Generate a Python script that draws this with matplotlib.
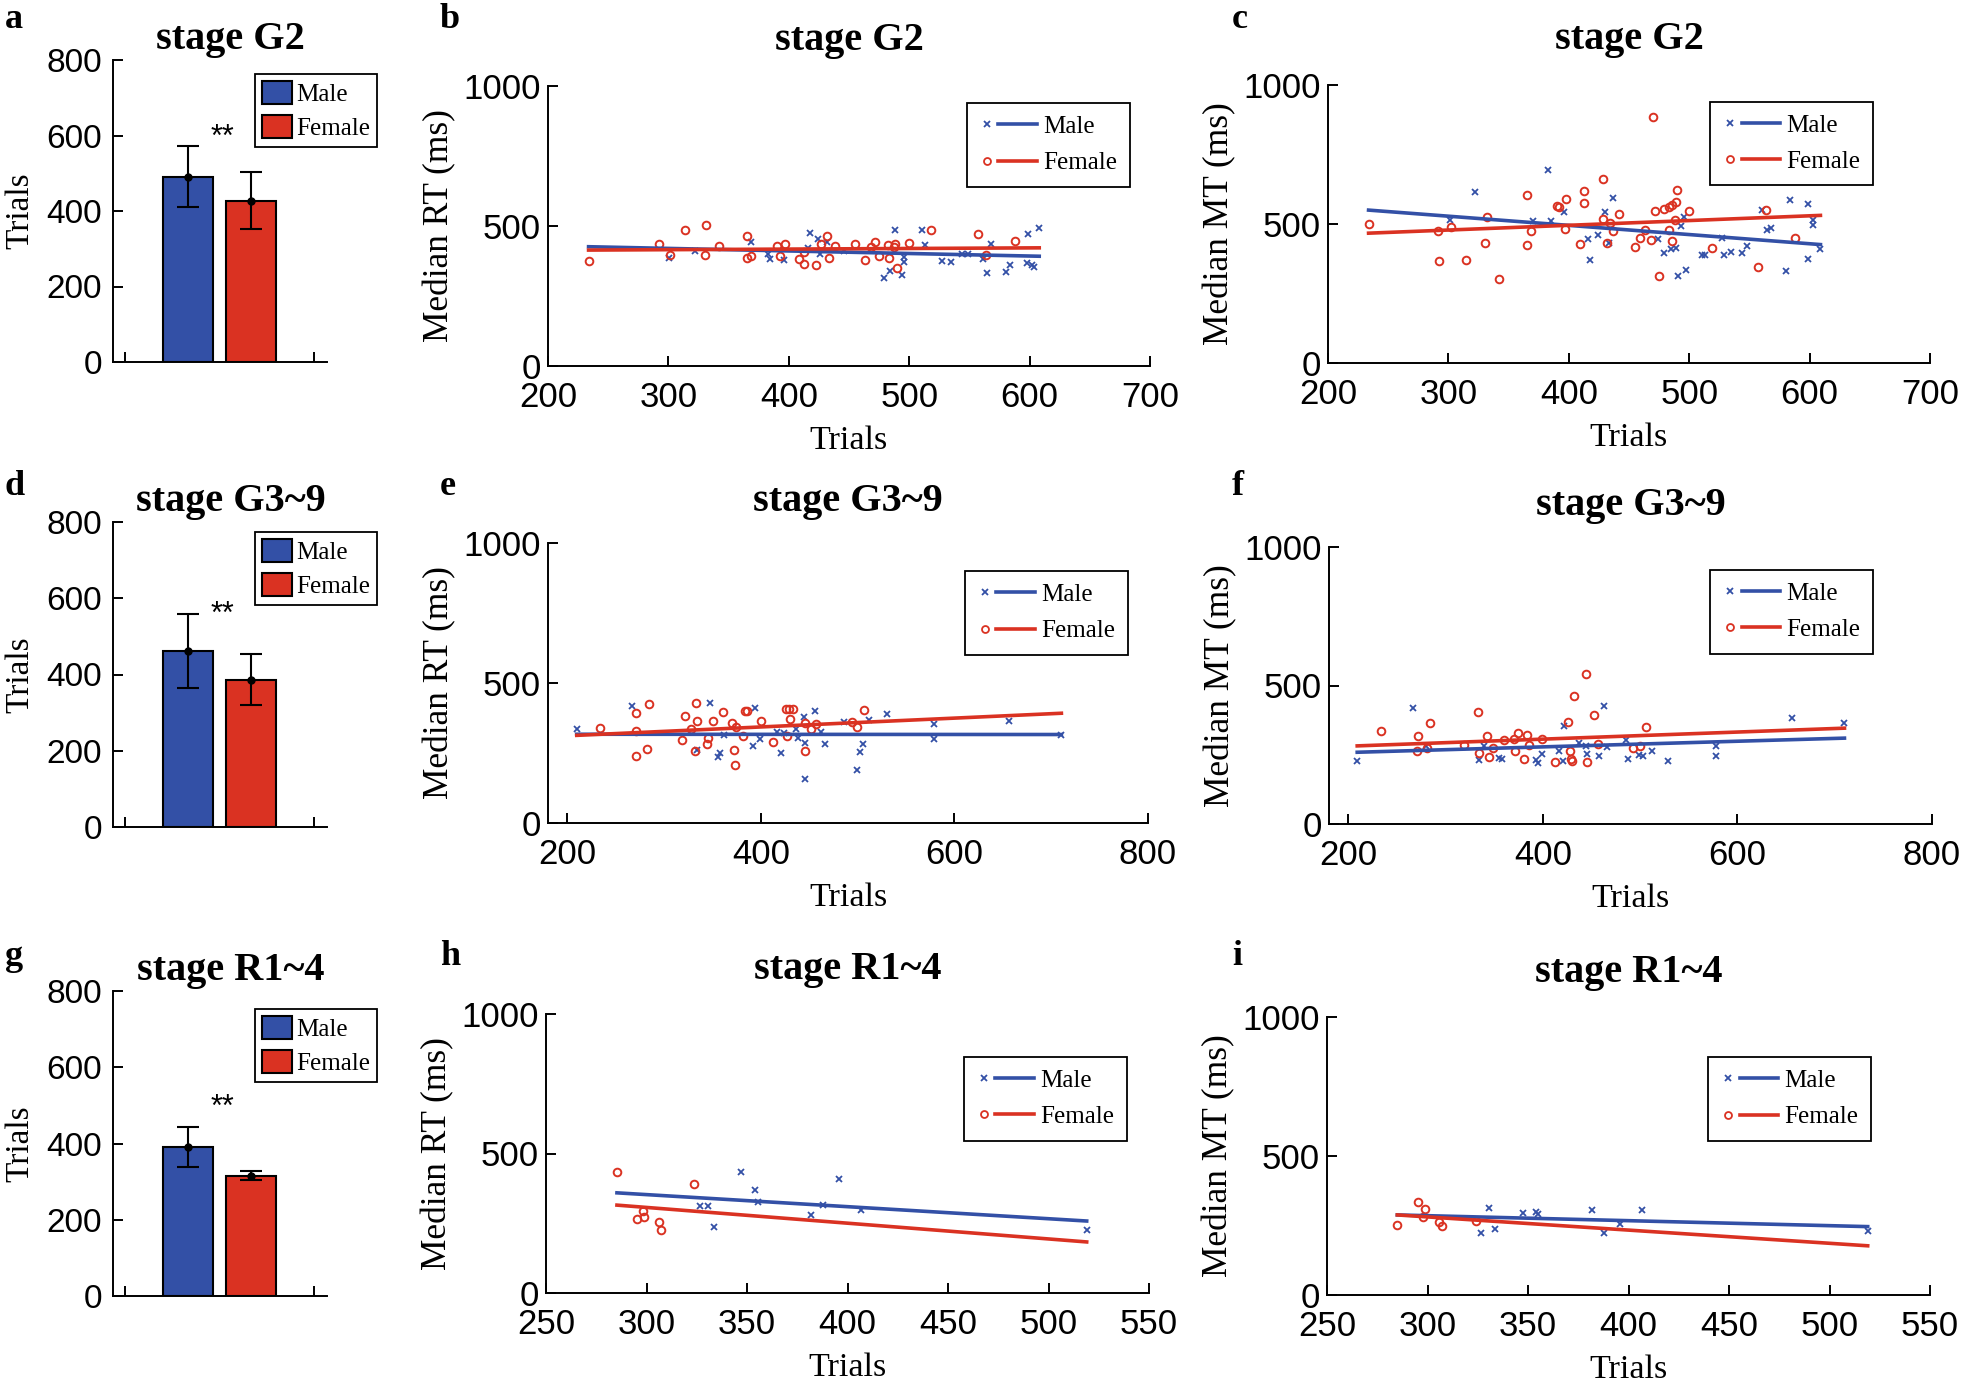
import matplotlib
matplotlib.use("Agg")
import matplotlib.pyplot as plt
from matplotlib.lines import Line2D
from matplotlib.legend_handler import HandlerBase
import numpy as np

plt.rcParams['font.family'] = 'Liberation Serif'
plt.rcParams['axes.linewidth'] = 1.4

BLUE = '#3350A6'
RED = '#DA3222'

# ---- bar panels (a, d, g) ----
stages = ["stage G2", "stage G3~9", "stage R1~4"]
bar_male_mean = [491, 461, 391]
bar_male_err = [81, 97, 53]
bar_female_mean = [427, 386, 316]
bar_female_err = [75, 67, 13]
star_y = [572, 535, 472]

# ---- scatter panels: (trials, median ms) ----
b_male_x = [300.7, 322, 369, 383, 384, 395.6, 418, 424, 432, 426, 416, 446, 488, 479, 484, 494, 496, 496,
            511, 513, 527, 535, 544, 549, 561, 565, 568, 580, 584, 598.6, 598, 602, 604, 608]
b_male_y = [386, 411, 442, 399, 383, 377, 474, 454, 444, 401, 420, 410, 487, 314, 341, 326, 373, 389,
            487, 432, 375, 373, 401, 401, 383, 331, 435, 337, 361, 471, 367, 361, 355, 493]
b_female_x = [233.7, 291.8, 314, 331, 301.7, 330, 342, 365, 365, 369, 390, 397, 393, 408.5, 412.6, 412.6,
              423, 427, 432, 438, 433, 455, 472, 468, 463, 475, 482, 488, 487, 483, 490, 500, 518, 557, 564, 588]
b_female_y = [375, 435, 485, 505, 397, 397, 428, 466, 387, 392, 429, 434, 392, 381, 363, 408,
              359, 434, 466, 429, 386, 434, 442, 426, 377, 392, 432, 435, 426, 386, 350, 438, 487, 472, 397, 446]
b_fit_male = [426, 392]
b_fit_female = [414, 422]

c_male_x = [301, 322, 370, 383, 385, 396, 416, 418, 424, 430, 433, 437, 474, 479, 485, 489, 493, 496, 491,
            497, 511, 513, 527, 529, 535, 544, 548, 560.5, 565, 568, 580, 584, 599, 599, 603, 603, 609]
c_male_y = [514, 615, 512, 696, 512, 542, 446, 371, 461, 544, 431, 595, 446, 395, 411, 413, 493, 526, 312,
            333, 389, 389, 448, 387, 398, 396, 420, 551, 480, 486, 330, 586, 571, 375, 514, 498, 410]
c_female_x = [233.7, 291, 292.5, 302, 314.6, 330.6, 332, 342, 365.6, 365, 369, 390, 392, 397.6, 397, 409,
              413, 413, 428.6, 428, 432, 434, 437, 442, 455, 459, 463, 468, 470, 472, 475, 479, 483, 483,
              486, 489, 490, 486, 488, 500, 519, 557, 564, 588]
c_female_y = [500, 474, 368, 490, 369, 431, 526, 301, 604, 426, 475, 565, 560, 589, 481, 429,
              620, 576, 661, 517, 432, 502, 474, 536, 417, 451, 479, 443, 885, 548, 312, 554, 562, 480,
              567, 580, 621, 438, 514, 548, 412, 345, 550, 450]
c_fit_male = [550, 426]
c_fit_female = [467, 531]

e_male_x = [209.7, 266.7, 347, 334, 355.7, 358, 361.6, 392, 394, 399, 417, 423.6, 421, 436, 438, 444.7,
            445.6, 446, 455.7, 462, 466, 485.6, 499, 502.5, 506, 512, 530, 578.5, 579, 656, 710.5]
e_male_y = [334, 418, 428, 259, 235, 251, 316, 275, 411, 299, 325, 323, 251, 335, 304, 380,
            284, 157, 401, 325, 281, 361, 190, 254, 283, 367, 389, 353, 299, 365, 316]
e_female_x = [233.8, 271, 271, 270.5, 282, 284, 318.6, 322, 328, 333, 334, 332, 344, 345, 350.6, 361, 370,
              372, 373, 374.7, 381, 384, 386, 399.6, 412.7, 426, 429, 433, 430, 427, 445.6, 445.6, 452,
              457, 494, 499.6, 507]
e_female_y = [340, 392, 329, 240, 263, 425, 296, 382, 337, 430, 365, 258, 283, 304, 365, 398, 358,
              261, 206, 343, 311, 399, 401, 364, 288, 406, 406, 408, 370, 312, 258, 358, 335,
              353, 360, 343, 404]
e_fit_male = [317, 316]
e_fit_female = [313, 392]

f_male_x = [209, 266.7, 280, 334.6, 339.7, 355, 357.6, 393, 394.7, 399, 416.5, 421.5, 421, 436.7, 444.7,
            445.6, 457.8, 463, 466, 485, 487, 499, 503, 512, 529, 577.6, 578, 655.7, 710]
f_male_y = [229, 417, 280, 231, 282, 237, 236, 231, 219, 252, 265, 354, 229, 294, 283,
            253, 246, 426, 277, 304, 234, 249, 246, 264, 229, 280, 246, 382, 364]
f_female_x = [233, 271, 270.5, 281, 284, 319, 333, 334.6, 342.6, 344.7, 349, 360, 370, 374, 371.5, 381,
              384, 386, 399, 412, 425.7, 428, 429, 430, 431.6, 444, 445.6, 452, 456.6, 493, 500, 506]
f_female_y = [334, 318, 264, 273, 364, 286, 406, 258, 317, 241, 273, 304, 307, 328, 265, 235,
              323, 286, 306, 225, 370, 265, 234, 229, 463, 541, 223, 394, 289, 273, 280, 349]
f_fit_male = [259, 310]
f_fit_female = [282, 346]

h_male_x = [347, 354, 355.5, 326.7, 330.6, 333.5, 382, 388, 396, 406.5, 519]
h_male_y = [432, 368, 325, 311, 313, 237, 280, 315, 410, 297, 225]
h_female_x = [285.3, 323.7, 295.3, 298.4, 299, 306, 307]
h_female_y = [434, 389, 264, 294, 273, 256, 227]
h_fit_male = [359, 258]
h_fit_female = [315, 183]

i_male_x = [330.6, 326.5, 333.7, 347.6, 354, 355, 382, 388, 396, 406.7, 519]
i_male_y = [312, 222, 236, 296, 300, 291, 306, 224, 255, 306, 230]
i_female_x = [285, 295.3, 299, 297.8, 305.7, 307, 324]
i_female_y = [252, 333, 308, 282, 261, 249, 267]
i_fit_male = [288, 246]
i_fit_female = [288, 177]

W, H = 1961, 1392
fig = plt.figure(figsize=(W / 100, H / 100), dpi=100)


def rect(l, r, t, b):
    return [l / W, 1 - b / H, (r - l) / W, (b - t) / H]


class MarkLine(HandlerBase):
    # marker on the left, short line on the right (like the matlab legend)
    def create_artists(self, legend, orig, xd, yd, w, h, fs, trans):
        y = h / 2 - yd
        x0 = -xd
        m = Line2D([x0 + 0.13 * w], [y], marker=orig.get_marker(), color=orig.get_color(),
                   ms=orig.get_markersize(), mew=1.3, mfc='none', ls='none', transform=trans)
        ln = Line2D([x0 + 0.33 * w, x0 + w], [y, y], color=orig.get_color(), lw=2.6, transform=trans)
        return [m, ln]


def style(ax):
    for s in ['top', 'right']:
        ax.spines[s].set_visible(False)
    ax.tick_params(direction='in', length=7, width=1.4, labelfontfamily='Liberation Sans')


# bar panels
bar_rects = [rect(113, 327, 60, 362), rect(113, 327, 522, 827), rect(113, 327, 991, 1296)]
bar_leg_top = [0.954, 0.967, 0.94]
for k in range(3):
    ax = fig.add_axes(bar_rects[k])
    bars = ax.bar([1, 2], [bar_male_mean[k], bar_female_mean[k]], width=0.8,
                  color=[BLUE, RED], edgecolor='black', linewidth=1.5)
    ax.errorbar([1, 2], [bar_male_mean[k], bar_female_mean[k]],
                yerr=[bar_male_err[k], bar_female_err[k]], fmt='o', color='black',
                ms=5, capsize=8, elinewidth=1.5, capthick=1.5)
    ax.text(1.55, star_y[k], '**', ha='center', va='baseline', fontsize=22, family='Liberation Sans')
    ax.set_xlim(-0.19, 3.21)
    ax.set_ylim(0, 800)
    ax.set_xticks([0, 3])
    ax.set_xticklabels([])
    ax.set_yticks(range(0, 801, 200))
    style(ax)
    ax.tick_params(axis='y', labelsize=24, pad=8)
    ax.set_ylabel('Trials', fontsize=24, labelpad=8)
    ax.set_title(stages[k], fontsize=29, fontweight='bold', x=0.55, pad=8)
    leg = ax.legend(bars, ['Male', 'Female'], loc='upper left', bbox_to_anchor=(0.662, bar_leg_top[k]),
                    borderaxespad=0, fontsize=18, handlelength=1.2, handleheight=1.05,
                    labelspacing=0.35, borderpad=0.28, handletextpad=0.18, fancybox=False,
                    framealpha=1, edgecolor='black')
    leg.get_frame().set_linewidth(1.3)

# scatter panels
panels = [
    (rect(548, 1150, 86, 366), 'Median RT (ms)', b_male_x, b_male_y, b_female_x, b_female_y,
     b_fit_male, b_fit_female, (200, 700), range(200, 701, 100), 0, (0.696, 0.939), 26),
    (rect(1328, 1930, 85, 363), 'Median MT (ms)', c_male_x, c_male_y, c_female_x, c_female_y,
     c_fit_male, c_fit_female, (200, 700), range(200, 701, 100), 0, (0.635, 0.94), 26),
    (rect(548, 1148, 543, 823), 'Median RT (ms)', e_male_x, e_male_y, e_female_x, e_female_y,
     e_fit_male, e_fit_female, (180, 800), range(200, 801, 200), 1, (0.695, 0.9), 23),
    (rect(1329, 1932, 547, 824), 'Median MT (ms)', f_male_x, f_male_y, f_female_x, f_female_y,
     f_fit_male, f_fit_female, (180, 800), range(200, 801, 200), 1, (0.632, 0.917), 23),
    (rect(546, 1149, 1014, 1293), 'Median RT (ms)', h_male_x, h_male_y, h_female_x, h_female_y,
     h_fit_male, h_fit_female, (250, 550), range(250, 551, 50), 2, (0.693, 0.846), 25),
    (rect(1327, 1930, 1017, 1295), 'Median MT (ms)', i_male_x, i_male_y, i_female_x, i_female_y,
     i_fit_male, i_fit_female, (250, 550), range(250, 551, 50), 2, (0.632, 0.856), 25),
]

for (r, ylab, mx, my, fx, fy, fit_m, fit_f, xlim, xt, st, legpos, tpad) in panels:
    ax = fig.add_axes(r)
    ax.plot(mx, my, ls='none', marker='x', ms=4, mew=1.3, color=BLUE)
    ax.plot(fx, fy, ls='none', marker='o', ms=5.5, mew=1.4, mfc='none', color=RED)
    x_ends = [min(mx + fx), max(mx + fx)]
    ax.plot(x_ends, fit_m, color=BLUE, lw=2.6)
    ax.plot(x_ends, fit_f, color=RED, lw=2.6)
    ax.set_xlim(*xlim)
    ax.set_ylim(0, 1000)
    ax.set_xticks(list(xt))
    ax.set_yticks([0, 500, 1000])
    style(ax)
    ax.tick_params(labelsize=25)
    ax.tick_params(axis='x', pad=11)
    ax.tick_params(axis='y', pad=5)
    ax.set_xlabel('Trials', fontsize=24.5, labelpad=8)
    ax.set_ylabel(ylab, fontsize=25.5, labelpad=5)
    ax.set_title(stages[st], fontsize=29, fontweight='bold', pad=tpad)
    handles = [Line2D([], [], color=BLUE, marker='x', ms=4), Line2D([], [], color=RED, marker='o', ms=5)]
    leg = ax.legend(handles, ['Male', 'Female'], handler_map={Line2D: MarkLine()}, loc='upper left',
                    bbox_to_anchor=legpos, borderaxespad=0, fontsize=18, handlelength=2.3,
                    labelspacing=0.55, borderpad=0.5, handletextpad=0.25, fancybox=False,
                    framealpha=1, edgecolor='black')
    leg.get_frame().set_linewidth(1.3)

# panel letters
letters = ['a', 'b', 'c', 'd', 'e', 'f', 'g', 'h', 'i']
letter_x = [5, 440, 1232]
letter_y = [28, 495, 965]
for n, let in enumerate(letters):
    fig.text(letter_x[n % 3] / W, 1 - letter_y[n // 3] / H, let, fontsize=26,
             fontweight='bold', va='baseline', ha='left')

fig.savefig('out.png', dpi=100)
